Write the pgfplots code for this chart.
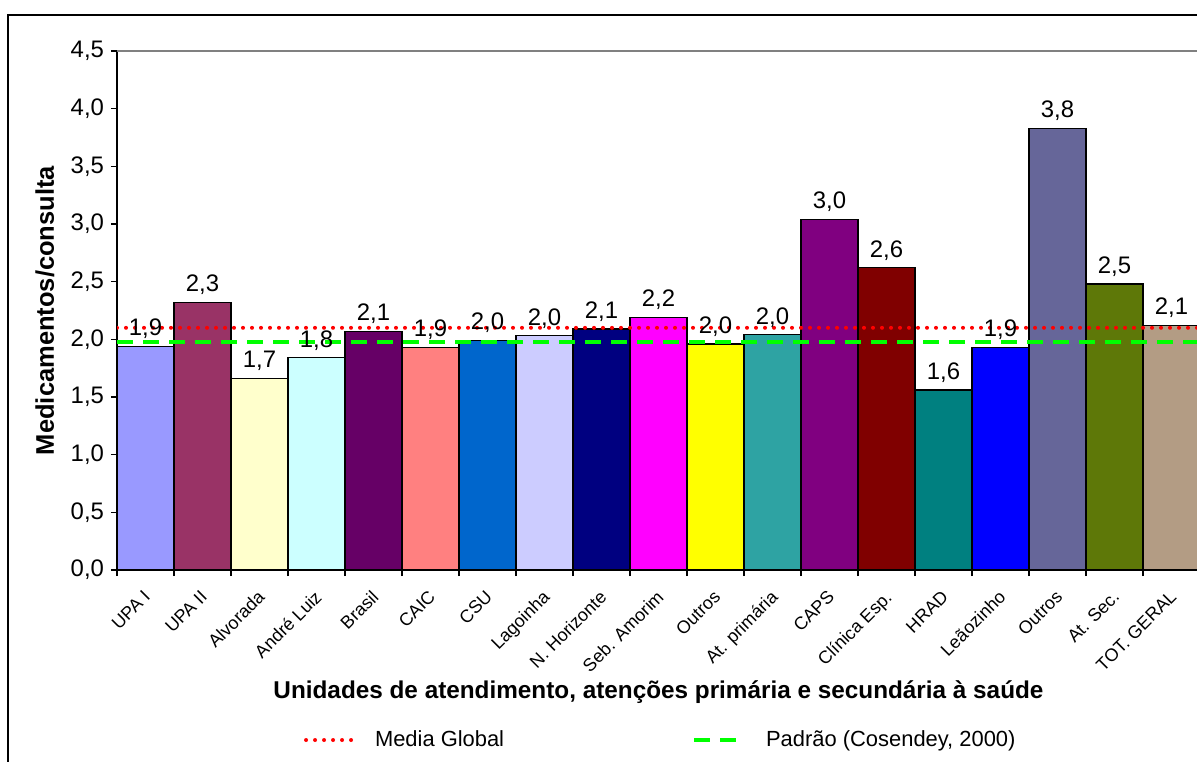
\documentclass[border=0pt]{standalone}
\usepackage{fontspec}
\setmainfont{Liberation Sans}
\usepackage{pgfplots}
\pgfplotsset{compat=1.18}

\definecolor{cUpaI}{HTML}{9999FF}
\definecolor{cUpaII}{HTML}{993366}
\definecolor{cAlvo}{HTML}{FFFFCC}
\definecolor{cAndre}{HTML}{CCFFFF}
\definecolor{cBrasil}{HTML}{660066}
\definecolor{cCaic}{HTML}{FF8080}
\definecolor{cCsu}{HTML}{0066CC}
\definecolor{cLago}{HTML}{CCCCFF}
\definecolor{cNHor}{HTML}{000080}
\definecolor{cSeb}{HTML}{FF00FF}
\definecolor{cOut}{HTML}{FFFF00}
\definecolor{cAtPri}{HTML}{2EA3A3}
\definecolor{cCaps}{HTML}{800080}
\definecolor{cClin}{HTML}{800000}
\definecolor{cHrad}{HTML}{008080}
\definecolor{cLeao}{HTML}{0000FF}
\definecolor{cOut2}{HTML}{666699}
\definecolor{cAtSec}{HTML}{5E7808}
\definecolor{cTot}{HTML}{B39C84}
\definecolor{cGreen}{HTML}{00FF00}

\pgfplotsset{
  bar/.style={fill=#1, draw=black, line width=0.6bp, forget plot,
    nodes near coords={\pgfmathprintnumber[fixed,fixed zerofill,precision=1,use comma]{\pgfplotspointmeta}},
    every node near coord/.append style={font=\fontsize{12}{14}\selectfont, black, inner sep=3.5bp}},
  lineleg/.style={legend image code/.code={\draw[##1] (0bp,0bp) -- (#1,0bp);}},
}

\begin{document}
\begin{tikzpicture}
\useasboundingbox (0,0) rectangle (598.5bp,381bp);
\draw[black, line width=0.8bp] (4bp,-10bp) -- (4bp,373.5bp) -- (620bp,373.5bp);
\begin{axis}[
  at={(58.5bp,96bp)}, anchor=south west,
  scale only axis, width=541.5bp, height=259.5bp,
  ybar, bar width=1, bar shift=0pt,
  xmin=-0.5, xmax=18.5, ymin=0, ymax=4.5,
  axis x line*=bottom, axis y line*=left,
  axis line style={line width=1bp},
  ytick={0,0.5,...,4.5},
  xtick={0,...,18},
  xticklabels={UPA I, UPA II, Alvorada, André Luiz, Brasil, CAIC, CSU, Lagoinha, N. Horizonte, Seb. Amorim, Outros, At. primária, CAPS, Clínica Esp., HRAD, Leãozinho, Outros, At. Sec., TOT. GERAL},
  minor xtick={-0.5,0.5,...,18.5},
  tick align=outside,
  major tick length=3bp, minor tick length=3bp,
  every major x tick/.append style={draw=none},
  every minor x tick/.append style={black, line width=0.6bp},
  ytick style={black, line width=0.6bp},
  /pgf/number format/assume math mode=true,
  yticklabel style={font=\fontsize{12}{14}\selectfont, /pgf/number format/.cd, use comma, fixed, fixed zerofill, precision=1},
  xticklabel style={font=\fontsize{9}{10}\selectfont, yshift=-5bp, xshift=-1.5bp, rotate=45, anchor=north east, inner sep=1bp},
  xlabel={\bfseries Unidades de atendimento, atenções primária e secundária à saúde},
  xlabel style={at={(axis description cs:0.5,-0.235)}, anchor=center, font=\fontsize{12.2}{14}\selectfont},
  ylabel={\bfseries Medicamentos/consulta},
  ylabel style={at={(axis description cs:-0.0665,0.5)}, anchor=center, font=\fontsize{12.8}{14}\selectfont},
  legend columns=2,
  legend style={at={(axis description cs:0.503,-0.3276)}, anchor=center, draw=none, fill=none,
    font=\fontsize{11}{13}\selectfont,
    /tikz/every odd column/.append style={column sep=9bp},
    /tikz/every even column/.append style={column sep=92bp}},
]
\addplot[bar=cUpaI] coordinates {(0,1.94)};
\addplot[bar=cUpaII] coordinates {(1,2.32)};
\addplot[bar=cAlvo] coordinates {(2,1.66)};
\addplot[bar=cAndre] coordinates {(3,1.84)};
\addplot[bar=cBrasil] coordinates {(4,2.07)};
\addplot[bar=cCaic] coordinates {(5,1.93)};
\addplot[bar=cCsu] coordinates {(6,1.99)};
\addplot[bar=cLago] coordinates {(7,2.03)};
\addplot[bar=cNHor] coordinates {(8,2.09)};
\addplot[bar=cSeb] coordinates {(9,2.19)};
\addplot[bar=cOut] coordinates {(10,1.96)};
\addplot[bar=cAtPri] coordinates {(11,2.04)};
\addplot[bar=cCaps] coordinates {(12,3.04)};
\addplot[bar=cClin] coordinates {(13,2.62)};
\addplot[bar=cHrad] coordinates {(14,1.56)};
\addplot[bar=cLeao] coordinates {(15,1.93)};
\addplot[bar=cOut2] coordinates {(16,3.83)};
\addplot[bar=cAtSec] coordinates {(17,2.48)};
\addplot[bar=cTot] coordinates {(18,2.12)};
% reference lines
\addplot[sharp plot, red, line width=2bp, line cap=round, dash pattern=on 0bp off 4.5bp, lineleg=22.5bp]
  coordinates {(-0.5,2.10) (18.5,2.10)};
\addlegendentry{Media Global}
\addplot[sharp plot, cGreen, line width=2bp, dash pattern=on 8bp off 5bp, lineleg=24bp]
  coordinates {(-0.5,1.98) (18.5,1.98)};
\addlegendentry{Padrão (Cosendey, 2000)}
\draw[gray, line width=0.6bp] (rel axis cs:0,1) -- (rel axis cs:1,1);
\end{axis}
\end{tikzpicture}
\end{document}
